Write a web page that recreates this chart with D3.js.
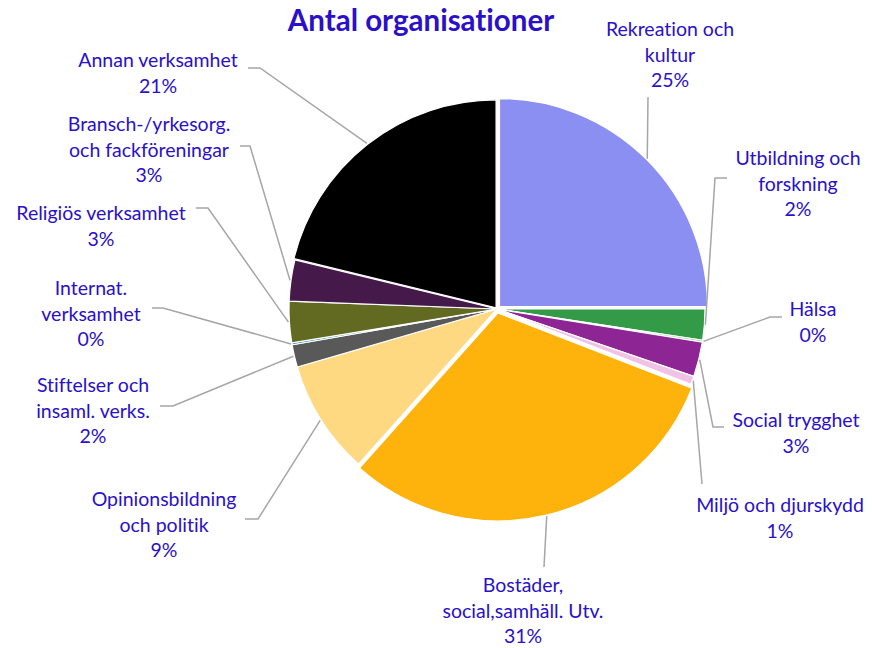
<!DOCTYPE html>
<html>
<head>
<meta charset="utf-8">
<script src="https://cdn.jsdelivr.net/npm/d3@7"></script>
<style>
  body { margin: 0; background: #fff; }
  svg { display: block; }
  text { font-variant-ligatures: none; font-feature-settings: "liga" 0, "clig" 0; }
  .lbl { font-family: Lato, "Open Sans", sans-serif; font-size: 19.5px; fill: #2a10c8; }
  .title { font-family: Lato, "Open Sans", sans-serif; font-size: 29.5px; font-weight: bold; fill: #2a10c8; }
</style>
</head>
<body>
<div id="app"></div>
<script>
// categories in drawing order, clockwise from 12 o'clock
const categories = [
    "Rekreation och kultur",
    "Utbildning och forskning",
    "Hälsa",
    "Social trygghet",
    "Miljö och djurskydd",
    "Bostäder, social,samhäll. Utv.",
    "Opinionsbildning och politik",
    "Stiftelser och insaml. verks.",
    "Internat. verksamhet",
    "Religiös verksamhet",
    "Bransch-/yrkesorg. och fackföreningar",
    "Annan verksamhet"
];
// share of organisations, percent
const shares = [25.0, 2.4, 0.15, 2.7, 0.65, 30.7, 8.9, 1.75, 0.15, 3.2, 3.2, 21.2];
// how the category names wrap in the labels
const labelLines = [
    ["Rekreation och", "kultur"],
    ["Utbildning och", "forskning"],
    ["Hälsa"],
    ["Social trygghet"],
    ["Miljö och djurskydd"],
    ["Bostäder,", "social,samhäll. Utv."],
    ["Opinionsbildning", "och politik"],
    ["Stiftelser och", "insaml. verks."],
    ["Internat.", "verksamhet"],
    ["Religiös verksamhet"],
    ["Bransch-/yrkesorg.", "och fackföreningar"],
    ["Annan verksamhet"]
];
const colors = ["#8c8ff2", "#339b47", "#80d880", "#8e2594", "#f0c2e6", "#feb30c",
    "#fed982", "#595959", "#1f7e9a", "#626a22", "#451a4a", "#000000"];

function plotChart() {
    const svgWidth = 872;
    const svgHeight = 648;
    const cx = 497, cy = 309, radius = 208;
    const lineHeight = 25.5;

    // slices pulled out of the pie
    const explode = {0: 3.5, 5: 4, 11: 1.5};

    // label anchor (centre x, first baseline) and the label end of each leader line
    const labelLayout = [
        {x: 670, y: 36, pts: [[648, 97]]},
        {x: 798, y: 165, pts: [[727, 178], [715, 178]]},
        {x: 813, y: 316, pts: [[782, 317], [770, 317]]},
        {x: 796, y: 427, pts: [[724, 427], [713, 427]]},
        {x: 780, y: 512, pts: [[702, 484]]},
        {x: 523, y: 592, pts: [[544, 567]]},
        {x: 164, y: 506, pts: [[245, 519], [258, 519]]},
        {x: 93, y: 392, pts: [[160, 406], [173, 406]]},
        {x: 91, y: 295, pts: [[152, 308], [163, 308]]},
        {x: 101, y: 220, pts: [[196, 208], [208, 208]]},
        {x: 149, y: 131, pts: [[240, 146], [250, 146]]},
        {x: 158, y: 67, pts: [[248, 68], [260, 68]]}
    ];

    const svg = d3.select("#app").append("svg")
        .attr("width", svgWidth)
        .attr("height", svgHeight);

    svg.append("text")
        .classed("title", true)
        .attr("x", 421)
        .attr("y", 31)
        .attr("text-anchor", "middle")
        .text("Antal organisationer");

    const pie = d3.pie().sort(null).value(function(d) { return d; });
    const arcs = pie(shares);

    const arc = d3.arc().innerRadius(0).outerRadius(radius);

    function offset(d, i) {
        const e = explode[i] || 0;
        const a = (d.startAngle + d.endAngle) / 2;
        return [Math.sin(a) * e, -Math.cos(a) * e];
    }

    const chart = svg.append("g")
        .attr("transform", "translate(" + cx + "," + cy + ")");

    chart.selectAll(".slice")
        .data(arcs)
        .enter()
            .append("path")
            .classed("slice", true)
            .attr("d", arc)
            .attr("transform", function(d, i) {
                const o = offset(d, i);
                return "translate(" + o[0] + "," + o[1] + ")";
            })
            .attr("fill", function(d, i) { return colors[i]; })
            .attr("stroke", "#fff")
            .attr("stroke-width", 1.2);

    // leader lines from the label to the rim of the slice
    const line = d3.line();
    svg.selectAll(".leader")
        .data(arcs)
        .enter()
            .append("path")
            .classed("leader", true)
            .attr("d", function(d, i) {
                const a = (d.startAngle + d.endAngle) / 2;
                const o = offset(d, i);
                const rim = [cx + o[0] + Math.sin(a) * (radius + 1),
                             cy + o[1] - Math.cos(a) * (radius + 1)];
                return line(labelLayout[i].pts.concat([rim]));
            })
            .attr("fill", "none")
            .attr("stroke", "#a6a6a6")
            .attr("stroke-width", 1.5);

    const labels = svg.selectAll(".lbl")
        .data(arcs)
        .enter()
            .append("text")
            .classed("lbl", true)
            .attr("text-anchor", "middle")
            .attr("x", function(d, i) { return labelLayout[i].x; })
            .attr("y", function(d, i) { return labelLayout[i].y; });

    labels.each(function(d, i) {
        const rows = labelLines[i].concat([Math.round(d.data) + "%"]);
        d3.select(this).selectAll("tspan")
            .data(rows)
            .enter()
                .append("tspan")
                .attr("x", labelLayout[i].x)
                .attr("dy", function(r, j) { return j === 0 ? 0 : lineHeight; })
                .text(function(r) { return r; });
    });
}

plotChart();
</script>
</body>
</html>
